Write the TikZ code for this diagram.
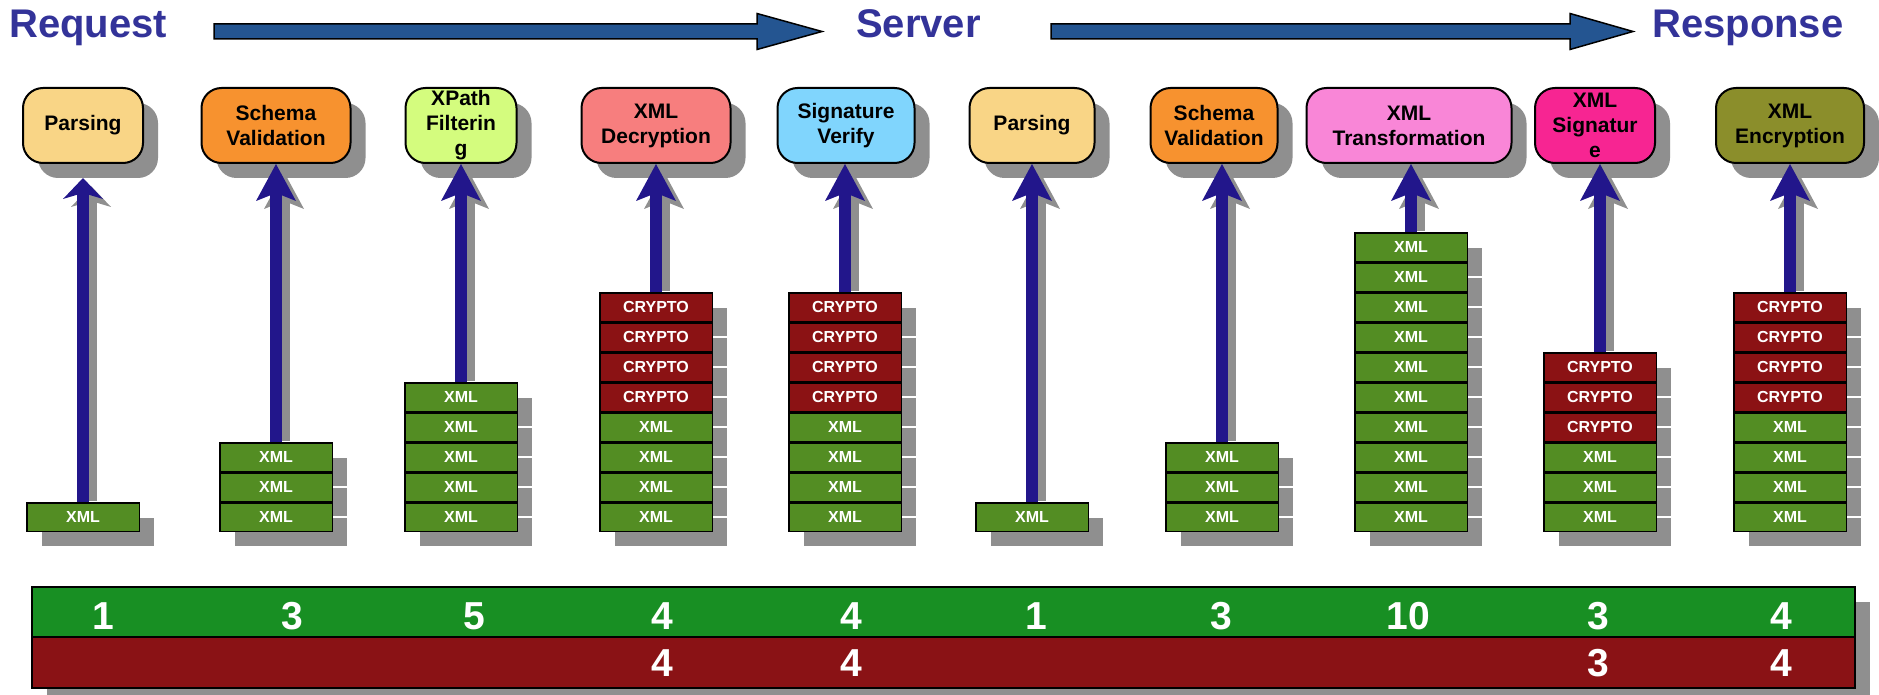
\documentclass[tikz,border=0pt]{standalone}
\usepackage{fontspec}
\setmainfont{Liberation Sans}
\usetikzlibrary{arrows.meta,shadows}

\definecolor{titleblue}{RGB}{51,51,153}
\definecolor{bandblue}{RGB}{36,85,145}
\definecolor{shaftblue}{RGB}{34,22,139}
\definecolor{shadowgray}{RGB}{143,143,143}
\definecolor{xmlgreen}{RGB}{83,141,35}
\definecolor{cryptored}{RGB}{139,18,20}
\definecolor{bargreen}{RGB}{24,143,35}
\definecolor{barred}{RGB}{138,18,21}
\definecolor{cparse}{RGB}{249,213,134}
\definecolor{cschema}{RGB}{247,146,47}
\definecolor{cxpath}{RGB}{212,252,126}
\definecolor{cdecrypt}{RGB}{247,126,126}
\definecolor{cverify}{RGB}{128,213,253}
\definecolor{ctransf}{RGB}{249,134,215}
\definecolor{csign}{RGB}{247,37,146}
\definecolor{cencrypt}{RGB}{139,142,43}

\begin{document}
\begin{tikzpicture}[
    x=1pt, y=-1pt,
    boxshadow/.style={drop shadow={shadow xshift=15pt, shadow yshift=-15pt, fill=shadowgray, opacity=1}},
    title/.style={anchor=base west, inner sep=0pt, text=titleblue, font=\fontsize{40}{40}\selectfont\bfseries},
    bigarrow/.style={draw=black, line width=1.5pt, fill=bandblue},
    stage/.style={
        rectangle, 
        rounded corners=20pt, 
        draw, 
        line width=2pt, 
        minimum height=75pt, 
        inner xsep=4pt, 
        inner ysep=0pt, 
        align=center, 
        font=\fontsize{21}{25}\selectfont\bfseries,
        boxshadow
    },
    block/.style={
        rectangle, 
        draw, 
        line width=1.5pt, 
        minimum width=112.5pt, 
        minimum height=28.5pt, 
        inner sep=0pt, 
        text=white, 
        font=\fontsize{16}{16}\selectfont\bfseries,
        boxshadow
    },
    xml/.style={block, fill=xmlgreen},
    crypto/.style={block, fill=cryptored},
    flow/.style={draw=shaftblue, line width=12pt},
    longhead/.style={-{Stealth[length=37pt, width=40pt, inset=8pt, line width=0pt]}},
    shorthead/.style={-{Stealth[length=21pt, width=40pt, inset=6pt, line width=0pt]}},
    flowshadow/.style={draw=shadowgray, shorten <=9pt, transform canvas={xshift=8pt, yshift=-8pt}},
    row/.style={rectangle, draw, line width=2.5pt, minimum width=1823pt, inner sep=0pt, boxshadow},
    tally/.style={inner sep=0pt, text=white, font=\fontsize{39}{39}\selectfont\bfseries}
]
    \path[use as bounding box, fill=white] (0,0) rectangle (1879,695);

    % Titoli e frecce di flusso
    \node[title] (request) at (9,38) {Request};
    \node[title] (server) at (856,38) {Server};
    \node[title] (response) at (1652,38) {Response};

    \coordinate (flowA) at (214,31.5);
    \coordinate (flowB) at (1051,31.5);
    \draw[bigarrow] (flowA) ++(0,-7.5) -- ++(543,0) -- ++(0,-10.5) -- ++(65,18) 
        -- ++(-65,18) -- ++(0,-10.5) -- ++(-543,0) -- cycle;
    \draw[bigarrow] (flowB) ++(0,-7.5) -- ++(519,0) -- ++(0,-10.5) -- ++(63,18) 
        -- ++(-63,18) -- ++(0,-10.5) -- ++(-519,0) -- cycle;

    % Fasi di elaborazione
    \node[stage, fill=cparse, minimum width=120pt] (b1) at (83,125.5) {Parsing};
    \node[stage, fill=cschema, minimum width=149pt] (b2) at (276,125.5) {Schema\\Validation};
    \node[stage, fill=cxpath, minimum width=111pt] (b3) at (461,125.5) {XPath\\Filterin\\g};
    \node[stage, fill=cdecrypt, minimum width=149pt] (b4) at (656,125.5) {XML\\Decryption};
    \node[stage, fill=cverify, minimum width=137pt] (b5) at (846,125.5) {Signature\\Verify};
    \node[stage, fill=cparse, minimum width=125pt] (b6) at (1032,125.5) {Parsing};
    \node[stage, fill=cschema, minimum width=127pt] (b7) at (1214,125.5) {Schema\\Validation};
    \node[stage, fill=ctransf, minimum width=205pt] (b8) at (1409,125.5) {XML\\Transformation};
    \node[stage, fill=csign, minimum width=120pt] (b9) at (1595,125.5) {XML\\Signatur\\e};
    \node[stage, fill=cencrypt, minimum width=148pt] (b10) at (1790,125.5) {XML\\Encryption};

    % Pile di blocchi (dall'alto verso il basso)
    \foreach \cx/\nx/\nc [count=\i] in {83/1/0, 276/3/0, 461/5/0, 656/4/4, 845/4/4,
                                        1032/1/0, 1222/3/0, 1411/10/0, 1600/3/3, 1790/4/4}{
        \pgfmathtruncatemacro\n{\nx+\nc}
        \foreach \k in {\n,...,1}{
            \ifnum\k>\nx
                \node[crypto] (s\i-\k) at (\cx,547-30*\k) {CRYPTO};
            \else
                \node[xml] (s\i-\k) at (\cx,547-30*\k) {XML};
            \fi
        }
        \coordinate (top\i) at (s\i-\n.north);
    }

    % Frecce verso le fasi
    \foreach \i in {2,...,10}{
        \draw[flow, longhead, flowshadow] (top\i) -- (top\i |- b\i.south);
        \draw[flow, longhead] (top\i) -- (top\i |- b\i.south);
    }
    \coordinate (tip1) at ([yshift=-14pt]b1.south);
    \draw[flow, shorthead, flowshadow] (top1) -- (tip1);
    \draw[flow, shorthead] (top1) -- (tip1);

    % Conteggi
    \node[row, fill=bargreen, minimum height=50pt] (greenrow) at (943.5,612) {};
    \node[row, fill=barred, minimum height=51pt] (redrow) at (943.5,662.5) {};
    \foreach \x/\v [count=\j] in {103/1, 292/3, 474/5, 662/4, 851/4, 1036/1, 1221/3, 1408/10, 1598/3, 1781/4}
        \node[tally] (g\j) at (\x,616) {\v};
    \foreach \x/\v [count=\j] in {662/4, 851/4, 1598/3, 1781/4}
        \node[tally] (r\j) at (\x,663.5) {\v};
\end{tikzpicture}
\end{document}
